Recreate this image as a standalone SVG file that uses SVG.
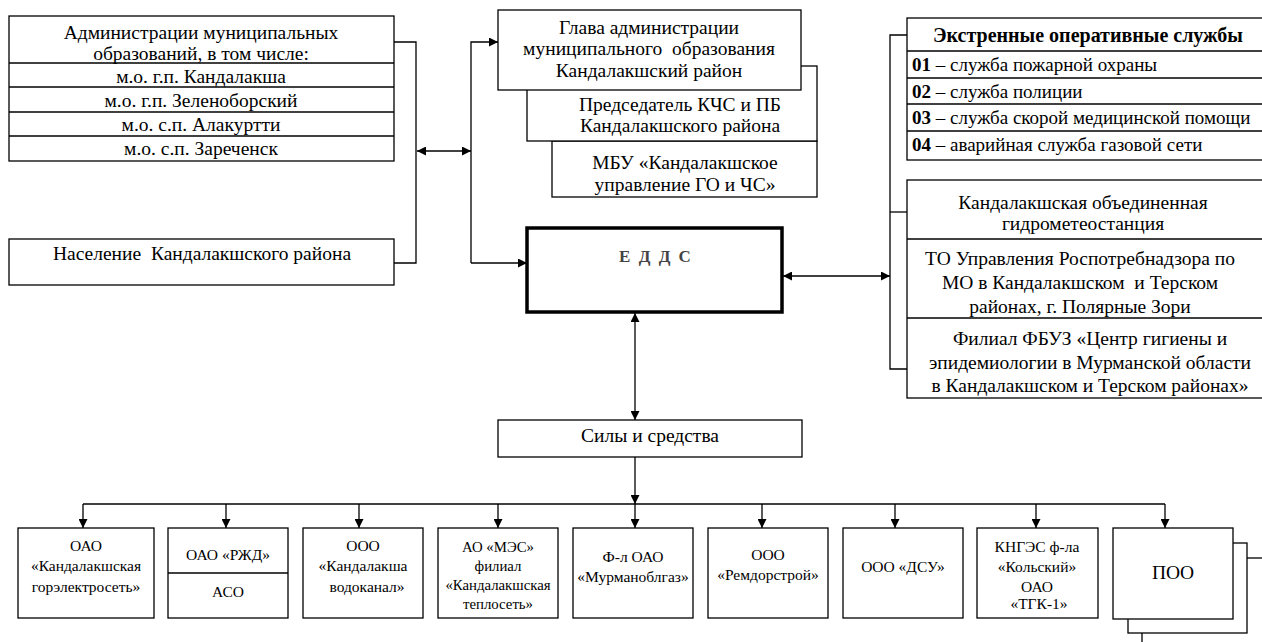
<svg xmlns="http://www.w3.org/2000/svg" width="1262" height="642" viewBox="0 0 1262 642">
<style>
  .box{fill:#fff;stroke:#000;stroke-width:1.3}
  .thick{fill:#fff;stroke:#000;stroke-width:3.5}
  .ln{fill:none;stroke:#000;stroke-width:1.3}
  text{font-family:"Liberation Serif","Times New Roman",serif;fill:#000}
  .t{font-size:19.5px;text-anchor:middle}
  .tl{font-size:19px}
  .b{font-weight:bold}
  .h{font-size:20px;font-weight:bold;text-anchor:middle}
  .s{font-size:15.5px;text-anchor:middle}
  .s2{font-size:14.8px;text-anchor:middle}
  .edds{font-size:17px;font-weight:bold;fill:#444;text-anchor:middle;letter-spacing:2px}
  .poo{font-size:19.5px;text-anchor:middle}
</style>
<defs>
  <marker id="ah" viewBox="0 0 10 10" refX="10" refY="5" markerWidth="9" markerHeight="9" markerUnits="userSpaceOnUse" orient="auto-start-reverse">
    <path d="M0,0 L10,5 L0,10 z" fill="#000"/>
  </marker>
  <marker id="ahs" viewBox="0 0 10 10" refX="10" refY="5" markerWidth="9" markerHeight="9" markerUnits="userSpaceOnUse" orient="auto">
    <path d="M0,0 L10,5 L0,10 z" fill="#000"/>
  </marker>
</defs>
<rect width="1262" height="642" fill="#fff"/>

<g id="connectors">
  <polyline class="ln" points="394,42 416,42 416,263 394,263"/>
  <line class="ln" x1="417" y1="151" x2="471" y2="151" marker-start="url(#ah)" marker-end="url(#ah)"/>
  <polyline class="ln" points="471,263 471,42 498,42" marker-end="url(#ahs)"/>
  <line class="ln" x1="471" y1="263" x2="527" y2="263" marker-end="url(#ahs)"/>
  <polyline class="ln" points="907,35 890,35 890,369 907,369"/>
  <line class="ln" x1="890" y1="212" x2="907" y2="212"/>
  <line class="ln" x1="783" y1="276" x2="890" y2="276" marker-start="url(#ah)" marker-end="url(#ah)"/>
  <line class="ln" x1="635" y1="313" x2="635" y2="420" marker-start="url(#ah)" marker-end="url(#ah)"/>
  <line class="ln" x1="635" y1="457" x2="635" y2="504" marker-end="url(#ahs)"/>
  <line class="ln" x1="83" y1="504" x2="1165" y2="504"/>
  <line class="ln" x1="83" y1="504" x2="83" y2="528" marker-end="url(#ahs)"/>
  <line class="ln" x1="226" y1="504" x2="226" y2="528" marker-end="url(#ahs)"/>
  <line class="ln" x1="359" y1="504" x2="359" y2="528" marker-end="url(#ahs)"/>
  <line class="ln" x1="498" y1="504" x2="498" y2="528" marker-end="url(#ahs)"/>
  <line class="ln" x1="635" y1="504" x2="635" y2="528" marker-end="url(#ahs)"/>
  <line class="ln" x1="762" y1="504" x2="762" y2="528" marker-end="url(#ahs)"/>
  <line class="ln" x1="895" y1="504" x2="895" y2="528" marker-end="url(#ahs)"/>
  <line class="ln" x1="1036" y1="504" x2="1036" y2="528" marker-end="url(#ahs)"/>
  <line class="ln" x1="1165" y1="504" x2="1165" y2="528" marker-end="url(#ahs)"/>
</g>

<g id="admins">
  <rect class="box" x="9" y="16" width="385" height="145"/>
  <line class="ln" x1="9" y1="63" x2="394" y2="63"/>
  <line class="ln" x1="9" y1="87" x2="394" y2="87"/>
  <line class="ln" x1="9" y1="112" x2="394" y2="112"/>
  <line class="ln" x1="9" y1="136" x2="394" y2="136"/>
  <text class="t" x="201" y="39">Администрации муниципальных</text>
  <text class="t" x="201" y="60">образований, в том числе:</text>
  <text class="t" x="201" y="83">м.о. г.п. Кандалакша</text>
  <text class="t" x="201" y="107">м.о. г.п. Зеленоборский</text>
  <text class="t" x="201" y="131">м.о. с.п. Алакуртти</text>
  <text class="t" x="201" y="155">м.о. с.п. Зареченск</text>
</g>

<g id="population">
  <rect class="box" x="9" y="239" width="385" height="46"/>
  <text class="t" x="202" y="260" xml:space="preserve">Население  Кандалакшского района</text>
</g>

<g id="mbu">
  <rect class="box" x="552" y="141" width="265" height="56"/>
  <text class="t" x="685" y="169">МБУ «Кандалакшское</text>
  <text class="t" x="685" y="191">управление ГО и ЧС»</text>
</g>
<g id="chairman">
  <rect class="box" x="527" y="66" width="290" height="75"/>
  <text class="t" x="680" y="111">Председатель КЧС и ПБ</text>
  <text class="t" x="680" y="132">Кандалакшского района</text>
</g>
<g id="head">
  <rect class="box" x="498" y="10" width="303" height="80"/>
  <text class="t" x="649" y="34">Глава администрации</text>
  <text class="t" x="649" y="55" xml:space="preserve">муниципального  образования</text>
  <text class="t" x="649" y="77">Кандалакшский район</text>
</g>

<g id="edds">
  <rect class="thick" x="527" y="228" width="255" height="84"/>
  <text class="edds" x="656" y="262">Е Д Д С</text>
</g>

<g id="emergency">
  <rect class="box" x="907" y="18" width="365" height="142"/>
  <line class="ln" x1="907" y1="51" x2="1272" y2="51"/>
  <line class="ln" x1="907" y1="78" x2="1272" y2="78"/>
  <line class="ln" x1="907" y1="104" x2="1272" y2="104"/>
  <line class="ln" x1="907" y1="131" x2="1272" y2="131"/>
  <text class="h" x="1088" y="42">Экстренные оперативные службы</text>
  <text class="tl" x="912" y="71"><tspan class="b">01</tspan> – служба пожарной охраны</text>
  <text class="tl" x="912" y="98"><tspan class="b">02</tspan> – служба полиции</text>
  <text class="tl" x="912" y="124"><tspan class="b">03</tspan> – служба скорой медицинской помощи</text>
  <text class="tl" x="912" y="151"><tspan class="b">04</tspan> – аварийная служба газовой сети</text>
</g>

<g id="agencies">
  <rect class="box" x="907" y="180" width="365" height="218"/>
  <line class="ln" x1="907" y1="239" x2="1272" y2="239"/>
  <line class="ln" x1="907" y1="318" x2="1272" y2="318"/>
  <text class="t" x="1083" y="209">Кандалакшская объединенная</text>
  <text class="t" x="1083" y="230">гидрометеостанция</text>
  <text class="t" x="1080" y="265">ТО Управления Роспотребнадзора по</text>
  <text class="t" x="1080" y="289" xml:space="preserve">МО в Кандалакшском  и Терском</text>
  <text class="t" x="1080" y="313">районах, г. Полярные Зори</text>
  <text class="t" x="1090" y="345">Филиал ФБУЗ «Центр гигиены и</text>
  <text class="t" x="1090" y="369">эпидемиологии в Мурманской области</text>
  <text class="t" x="1090" y="392">в Кандалакшском и Терском районах»</text>
</g>

<g id="forces">
  <rect class="box" x="498" y="420" width="304" height="37"/>
  <text class="t" x="650" y="442">Силы и средства</text>
</g>

<g id="b1">
  <rect class="box" x="18" y="528" width="136" height="90"/>
  <text class="s" x="86" y="551">ОАО</text>
  <text class="s" x="86" y="571">«Кандалакшская</text>
  <text class="s" x="86" y="592">горэлектросеть»</text>
</g>
<g id="b2">
  <rect class="box" x="168" y="528" width="120" height="90"/>
  <line class="ln" x1="168" y1="573" x2="288" y2="573"/>
  <text class="s" x="228" y="560">ОАО «РЖД»</text>
  <text class="s" x="228" y="597">АСО</text>
</g>
<g id="b3">
  <rect class="box" x="303" y="528" width="120" height="90"/>
  <text class="s" x="363" y="551">ООО</text>
  <text class="s" x="363" y="571">«Кандалакша</text>
  <text class="s" x="367" y="592">водоканал»</text>
</g>
<g id="b4">
  <rect class="box" x="438" y="528" width="120" height="90"/>
  <text class="s2" x="498" y="552">АО «МЭС»</text>
  <text class="s2" x="498" y="571">филиал</text>
  <text class="s2" x="498" y="590">«Кандалакшская</text>
  <text class="s2" x="498" y="609">теплосеть»</text>
</g>
<g id="b5">
  <rect class="box" x="573" y="528" width="120" height="90"/>
  <text class="s" x="633" y="562">Ф-л ОАО</text>
  <text class="s" x="633" y="582">«Мурманоблгаз»</text>
</g>
<g id="b6">
  <rect class="box" x="708" y="528" width="120" height="90"/>
  <text class="s" x="768" y="560">ООО</text>
  <text class="s" x="768" y="580">«Ремдорстрой»</text>
</g>
<g id="b7">
  <rect class="box" x="843" y="528" width="120" height="90"/>
  <text class="s" x="903" y="572">ООО «ДСУ»</text>
</g>
<g id="b8">
  <rect class="box" x="977" y="528" width="121" height="90"/>
  <text class="s" x="1037" y="552">КНГЭС ф-ла</text>
  <text class="s" x="1037" y="572">«Кольский»</text>
  <text class="s" x="1037" y="592">ОАО</text>
  <text class="s" x="1039" y="609">«ТГК-1»</text>
</g>
<g id="poo">
  <rect class="box" x="1142" y="558" width="130" height="100"/>
  <rect class="box" x="1128" y="543" width="119" height="90"/>
  <rect class="box" x="1113" y="528" width="120" height="91"/>
  <text class="poo" x="1173" y="579">ПОО</text>
</g>
</svg>
